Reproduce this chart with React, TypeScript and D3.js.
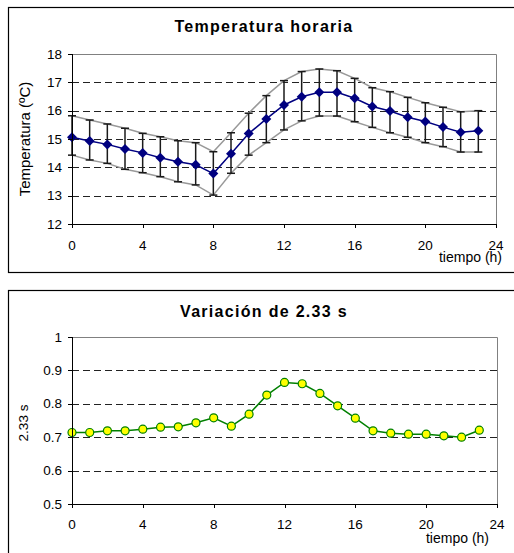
import * as d3 from 'd3';

// hourly temperature (mean and band), and the 2.33 s ratio per hour
const hours = [0, 1, 2, 3, 4, 5, 6, 7, 8, 9, 10, 11, 12, 13, 14, 15, 16, 17, 18, 19, 20, 21, 22, 23];
const tempMean = [15.06, 14.93, 14.81, 14.65, 14.51, 14.34, 14.2, 14.09, 13.78, 14.48, 15.19, 15.71, 16.2, 16.49, 16.65, 16.65, 16.44, 16.15, 15.99, 15.77, 15.62, 15.42, 15.24, 15.29];
const tempUpper = [15.82, 15.67, 15.53, 15.38, 15.2, 15.08, 14.94, 14.87, 14.55, 15.22, 15.91, 16.53, 17.06, 17.38, 17.47, 17.41, 17.14, 16.81, 16.67, 16.47, 16.28, 16.12, 15.96, 16.0];
const tempLower = [14.43, 14.26, 14.14, 13.93, 13.81, 13.67, 13.49, 13.38, 13.02, 13.79, 14.43, 14.87, 15.32, 15.64, 15.81, 15.81, 15.61, 15.41, 15.22, 15.06, 14.87, 14.73, 14.54, 14.54];
const ratio = [0.714, 0.714, 0.719, 0.719, 0.724, 0.73, 0.731, 0.743, 0.758, 0.733, 0.769, 0.826, 0.864, 0.86, 0.831, 0.794, 0.757, 0.719, 0.712, 0.709, 0.709, 0.704, 0.7, 0.721];

const xTicks = [0, 4, 8, 12, 16, 20, 24];
const tempTicks = [12, 13, 14, 15, 16, 17, 18];
const ratioTicks = [0.5, 0.6, 0.7, 0.8, 0.9, 1];

const FONT = 'Arial, "Liberation Sans", sans-serif';
const crisp = (v: number) => Math.round(v) + 0.5;

const Panel = (p: any) => {
    const x = d3.scaleLinear().domain([0, 24]).range([p.left, p.right]);
    const y = d3.scaleLinear().domain(p.domain).range([p.bottom, p.top]);
    const inner = p.ticks.slice(1, -1);
    return (
        <g>
            <rect x={8.5} y={p.frameTop + 0.5} width={520} height={p.frameH} fill="white" stroke="black" strokeWidth={1.2} />
            <text x={264} y={p.titleY} textAnchor="middle" fontSize={16} fontWeight="bold" letterSpacing={1.3} fontFamily={FONT}>
                {p.title}
            </text>
            {/* plot border */}
            <path d={`M${crisp(p.left)},${crisp(p.top)}H${crisp(p.right)}V${crisp(p.bottom)}`} fill="none" stroke="#808080" />
            {inner.map((t: number) => (
                <line key={t} x1={p.left} x2={p.right} y1={crisp(y(t))} y2={crisp(y(t))} stroke="#222" strokeDasharray="7 4" />
            ))}
            {p.children(x, y)}
            {/* axes */}
            <line x1={crisp(p.left)} x2={crisp(p.left)} y1={p.top} y2={p.bottom} stroke="black" />
            <line x1={p.left} x2={p.right + 1} y1={crisp(p.bottom)} y2={crisp(p.bottom)} stroke="black" />
            {p.ticks.map((t: number) => (
                <g key={t}>
                    <line x1={p.left - 4} x2={p.left} y1={crisp(y(t))} y2={crisp(y(t))} stroke="black" />
                    <text x={62} y={y(t) + 4.5} textAnchor="end" fontSize={13.5} fontFamily={FONT}>
                        {p.fmt(t)}
                    </text>
                </g>
            ))}
            {xTicks.map((t) => (
                <g key={t}>
                    <line x1={crisp(x(t))} x2={crisp(x(t))} y1={p.bottom} y2={p.bottom + 4} stroke="black" />
                    <text x={x(t)} y={p.xLabelY} textAnchor="middle" fontSize={13.5} fontFamily={FONT}>
                        {t}
                    </text>
                </g>
            ))}
            <text x={p.xTitleX} y={p.xTitleY} textAnchor="end" fontSize={14} fontFamily={FONT}>
                tiempo (h)
            </text>
            <text
                transform={`translate(${p.yTitleX},${p.yTitleY}) rotate(-90)`}
                textAnchor="middle"
                fontSize={p.yTitleSize}
                fontFamily={FONT}
            >
                {p.yTitle}
            </text>
        </g>
    );
};

const App = () => {
    return (
        <svg width={514} height={553} style={{ position: 'absolute', left: 0, top: 0, background: 'white' }}>
            <Panel
                frameTop={7} frameH={265} left={72} right={496} top={54} bottom={224}
                domain={[12, 18]} ticks={tempTicks} fmt={(t: number) => `${t}`}
                title="Temperatura horaria" titleY={32}
                xLabelY={250} xTitleX={502} xTitleY={262}
                yTitle="Temperatura (ºC)" yTitleX={30} yTitleY={139} yTitleSize={15}
            >
                {(x: any, y: any) => {
                    const band = d3.line<number>().x((_, i) => x(hours[i])).y((d) => y(d));
                    const mean = d3.line<number>().x((_, i) => x(hours[i])).y((d) => y(d));
                    return (
                        <g>
                            <path d={band(tempUpper) || ''} fill="none" stroke="#999" strokeWidth={1.5} />
                            <path d={band(tempLower) || ''} fill="none" stroke="#999" strokeWidth={1.5} />
                            {hours.map((h, i) => (
                                <g key={h} stroke="#1a1a1a" strokeWidth={1.5}>
                                    <line x1={x(h)} x2={x(h)} y1={y(tempUpper[i])} y2={y(tempLower[i])} />
                                    <line x1={x(h) - 4} x2={x(h) + 4} y1={y(tempUpper[i])} y2={y(tempUpper[i])} />
                                    <line x1={x(h) - 4} x2={x(h) + 4} y1={y(tempLower[i])} y2={y(tempLower[i])} />
                                </g>
                            ))}
                            <path d={mean(tempMean) || ''} fill="none" stroke="#000080" strokeWidth={1.5} />
                            {hours.map((h, i) => (
                                <path
                                    key={h}
                                    transform={`translate(${x(h)},${y(tempMean[i])})`}
                                    d="M0,-5L5,0L0,5L-5,0Z"
                                    fill="#000080"
                                />
                            ))}
                        </g>
                    );
                }}
            </Panel>
            <Panel
                frameTop={290} frameH={300} left={72} right={497} top={337} bottom={504}
                domain={[0.5, 1]} ticks={ratioTicks} fmt={(t: number) => (t === 1 ? '1' : d3.format('.1f')(t))}
                title="Variación de 2.33 s" titleY={316.5}
                xLabelY={529} xTitleX={489} xTitleY={543}
                yTitle="2.33 s" yTitleX={28} yTitleY={423} yTitleSize={13.5}
            >
                {(x: any, y: any) => {
                    const line = d3.line<number>().x((_, i) => x(hours[i])).y((d) => y(d));
                    return (
                        <g>
                            <path d={line(ratio) || ''} fill="none" stroke="#008000" strokeWidth={1.5} />
                            {hours.map((h, i) => (
                                <circle key={h} cx={x(h)} cy={y(ratio[i])} r={4} fill="#ffff00" stroke="#008000" strokeWidth={1.2} />
                            ))}
                        </g>
                    );
                }}
            </Panel>
        </svg>
    );
};

export default App;
